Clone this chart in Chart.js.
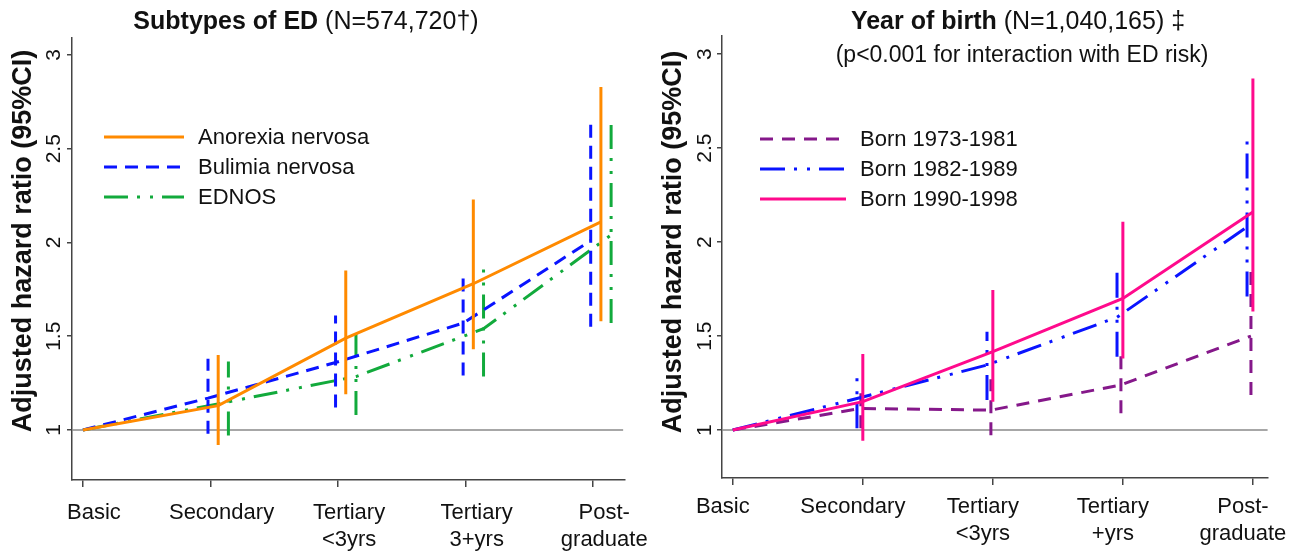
<!DOCTYPE html>
<html>
<head>
<meta charset="utf-8">
<script src="https://cdn.jsdelivr.net/npm/chart.js@4.4.1/dist/chart.umd.min.js"></script>
<style>
body { margin: 0; background: #fff; width: 1305px; height: 554px; overflow: hidden; }
.graph_wpr { position: absolute; top: 0; height: 554px; }
</style>
</head>
<body>
<div class="graph_wpr" style="left:0;width:650px"><canvas id="chart_left"></canvas></div>
<div class="graph_wpr" style="left:650px;width:655px"><canvas id="chart_right"></canvas></div>
<script>
// categories (x axis)
const edu_left = [['Basic'], ['Secondary'], ['Tertiary', '<3yrs'], ['Tertiary', '3+yrs'], ['Post-', 'graduate']]
const edu_right = [['Basic'], ['Secondary'], ['Tertiary', '<3yrs'], ['Tertiary', '+yrs'], ['Post-', 'graduate']]
const hr_ticks = [1, 1.5, 2, 2.5, 3]

// Subtypes of ED : hazard ratio and 95% CI (basic = reference, no CI)
const anorexia = [1, 1.13, 1.49, 1.78, 2.11]
const anorexia_lo = [null, 0.92, 1.19, 1.43, 1.58]
const anorexia_hi = [null, 1.40, 1.85, 2.23, 2.83]
const bulimia = [1, 1.17, 1.36, 1.57, 2.01]
const bulimia_lo = [null, 0.98, 1.12, 1.29, 1.55]
const bulimia_hi = [null, 1.38, 1.61, 1.85, 2.63]
const ednos = [1, 1.15, 1.285, 1.54, 2.04]
const ednos_lo = [null, 0.97, 1.08, 1.285, 1.57]
const ednos_hi = [null, 1.365, 1.52, 1.86, 2.66]

// Year of birth
const born73 = [1, 1.115, 1.106, 1.24, 1.50]
const born73_lo = [null, 1.01, 0.973, 1.09, 1.186]
const born73_hi = [null, 1.23, 1.27, 1.426, 1.887]
const born82 = [1, 1.168, 1.346, 1.60, 2.08]
const born82_lo = [null, 1.01, 1.16, 1.39, 1.71]
const born82_hi = [null, 1.31, 1.523, 1.837, 2.56]
const born90 = [1, 1.151, 1.417, 1.70, 2.16]
const born90_lo = [null, 0.943, 1.151, 1.38, 1.63]
const born90_hi = [null, 1.404, 1.745, 2.108, 2.87]

const FONT = "'Liberation Sans', Arial, sans-serif"
const AXIS = '#444'

// one series = the line + one vertical CI line per category
// rank = drawing order (1 on top), row = line in the legend
function build_series(label, hr, lo, hi, color, dash, dodge, rank, row) {
    const xs = hr.map((v, i) => i === 0 ? 0 : i + dodge)
    const style = {borderColor: color, borderDash: dash, borderWidth: 3, pointRadius: 0,
        pointHoverRadius: 0, fill: false, tension: 0, borderCapStyle: 'butt', order: rank}
    const sets = [Object.assign({label: label, row: row, data: hr.map((v, i) => ({x: xs[i], y: v}))}, style)]
    for (let i = 0; i < hr.length; i++) {
        if (lo[i] == null) continue
        sets.push(Object.assign({label: '', ci: true, data: [{x: xs[i], y: lo[i]}, {x: xs[i], y: hi[i]}]}, style))
    }
    return sets
}

// text around the plot: titles, y title, rotated y ticks, legend, ref line
const decor = {
    id: 'decor',
    beforeDatasetsDraw(chart, args, o) {
        const ctx = chart.ctx, y = chart.scales.y, a = chart.chartArea
        const py = y.getPixelForValue(1)
        ctx.save()
        ctx.strokeStyle = '#8a8a8a'
        ctx.lineWidth = 1.5
        ctx.beginPath()
        ctx.moveTo(a.left, py)
        ctx.lineTo(a.right - o.refEnd, py)
        ctx.stroke()
        ctx.restore()
    },
    afterDraw(chart, args, o) {
        const ctx = chart.ctx, y = chart.scales.y
        ctx.save()
        ctx.fillStyle = '#111'
        // title : bold part + normal part
        ctx.textBaseline = 'middle'
        ctx.font = `bold ${o.titleSize}px ${FONT}`
        const w1 = ctx.measureText(o.titleBold).width
        ctx.font = `${o.titleSize}px ${FONT}`
        const w2 = ctx.measureText(o.titleRest).width
        let tx = o.titleX - (w1 + w2) / 2
        ctx.textAlign = 'left'
        ctx.font = `bold ${o.titleSize}px ${FONT}`
        ctx.fillText(o.titleBold, tx, o.titleY)
        ctx.font = `${o.titleSize}px ${FONT}`
        ctx.fillText(o.titleRest, tx + w1, o.titleY)
        if (o.subtitle) {
            ctx.textAlign = 'center'
            ctx.font = `${o.subSize}px ${FONT}`
            ctx.fillText(o.subtitle, o.subX, o.subY)
        }
        // y title
        ctx.save()
        ctx.translate(o.yTitleX, o.yTitleY)
        ctx.rotate(-Math.PI / 2)
        ctx.textAlign = 'center'
        ctx.font = `bold ${o.yTitleSize}px ${FONT}`
        ctx.fillText('Adjusted hazard ratio (95%CI)', 0, 0)
        ctx.restore()
        // rotated tick labels
        ctx.font = `${o.tickSize}px ${FONT}`
        hr_ticks.forEach(v => {
            ctx.save()
            ctx.translate(chart.chartArea.left - o.tickGap, y.getPixelForValue(v))
            ctx.rotate(-Math.PI / 2)
            ctx.textAlign = 'center'
            ctx.fillText(String(v), 0, 0)
            ctx.restore()
        })
        // legend
        ctx.font = `${o.legendSize}px ${FONT}`
        ctx.textAlign = 'left'
        const main = chart.data.datasets.filter(ds => !ds.ci).sort((p, q) => p.row - q.row)
        main.forEach((ds, row) => {
            const ly = o.legendY + row * o.legendStep
            ctx.save()
            ctx.strokeStyle = ds.borderColor
            ctx.lineWidth = 3
            ctx.setLineDash(ds.borderDash)
            ctx.beginPath()
            ctx.moveTo(o.legendX, ly)
            ctx.lineTo(o.legendX + o.legendLen, ly)
            ctx.stroke()
            ctx.restore()
            ctx.fillText(ds.label, o.legendX + o.legendLen + 14, ly + 1)
        })
        ctx.restore()
    }
}

function config_graph(datasets, cats, xlim, ylim, pad, xAxisH, labelPad, labelOffset, decorOpts) {
    return {
        type: 'line',
        data: {datasets: datasets},
        options: {
            responsive: true,
            maintainAspectRatio: false,
            animation: false,
            events: [],
            layout: {padding: pad},
            plugins: {legend: {display: false}, tooltip: {enabled: false}, decor: decorOpts},
            scales: {
                x: {
                    type: 'linear', min: xlim[0], max: xlim[1],
                    afterBuildTicks: s => { s.ticks = cats.map((c, i) => ({value: i})) },
                    afterFit: s => { s.height = xAxisH },
                    ticks: {
                        callback: v => cats[v], color: '#111', padding: labelPad, labelOffset: labelOffset,
                        maxRotation: 0, autoSkip: false,
                        font: {family: FONT, size: 22, lineHeight: 1.25}
                    },
                    grid: {drawOnChartArea: false, color: AXIS, lineWidth: 1.5, tickLength: 7},
                    border: {display: true, color: AXIS, width: 1.5}
                },
                y: {
                    type: 'linear', min: ylim[0], max: ylim[1],
                    afterBuildTicks: s => { s.ticks = hr_ticks.map(v => ({value: v})) },
                    afterFit: s => { s.width = 72 },
                    ticks: {display: false},
                    grid: {drawOnChartArea: false, color: AXIS, lineWidth: 1.5, tickLength: 5},
                    border: {display: true, color: AXIS, width: 1.5}
                }
            }
        },
        plugins: [decor]
    }
}

const left_sets = [].concat(
    build_series('Anorexia nervosa', anorexia, anorexia_lo, anorexia_hi, '#ff8a00', [], 0.06, 1, 0),
    build_series('Bulimia nervosa', bulimia, bulimia_lo, bulimia_hi, '#0a14ff', [13, 8], -0.02, 2, 1),
    build_series('EDNOS', ednos, ednos_lo, ednos_hi, '#12aa3c', [24, 9, 3, 10, 3, 9], 0.14, 3, 2)
)
const right_sets = [].concat(
    build_series('Born 1973-1981', born73, born73_lo, born73_hi, '#85188a', [13, 9], -0.015, 3, 0),
    build_series('Born 1982-1989', born82, born82_lo, born82_hi, '#0a14ff', [25, 9, 3, 10, 3, 9], -0.045, 2, 1),
    build_series('Born 1990-1998', born90, born90_lo, born90_hi, '#ff0a8c', [], 0, 1, 2)
)

new Chart(document.getElementById('chart_left'), config_graph(
    left_sets, edu_left, [-0.086, 4.25], [0.7333, 3.0907],
    {left: 0, top: 38, right: 23, bottom: 0}, 74, 12, 11,
    {titleBold: 'Subtypes of ED', titleRest: ' (N=574,720\u2020)', titleX: 306, titleY: 22, titleSize: 25,
     yTitleX: 24, yTitleY: 241, yTitleSize: 27, tickGap: 18, tickSize: 21, refEnd: 2,
     legendX: 104, legendY: 137, legendStep: 30, legendLen: 80, legendSize: 22}
))

new Chart(document.getElementById('chart_right'), config_graph(
    right_sets, edu_right, [-0.083, 4.113], [0.745, 3.096],
    {left: 0, top: 36, right: 25, bottom: 0}, 76, 8, -10,
    {titleBold: 'Year of birth', titleRest: ' (N=1,040,165) \u2021', titleX: 368, titleY: 22, titleSize: 25,
     subtitle: '(p<0.001 for interaction with ED risk)', subX: 372, subY: 56, subSize: 23,
     yTitleX: 24, yTitleY: 242, yTitleSize: 27, tickGap: 17, tickSize: 21, refEnd: 0,
     legendX: 110, legendY: 139, legendStep: 30, legendLen: 86, legendSize: 22}
))
</script>
</body>
</html>
